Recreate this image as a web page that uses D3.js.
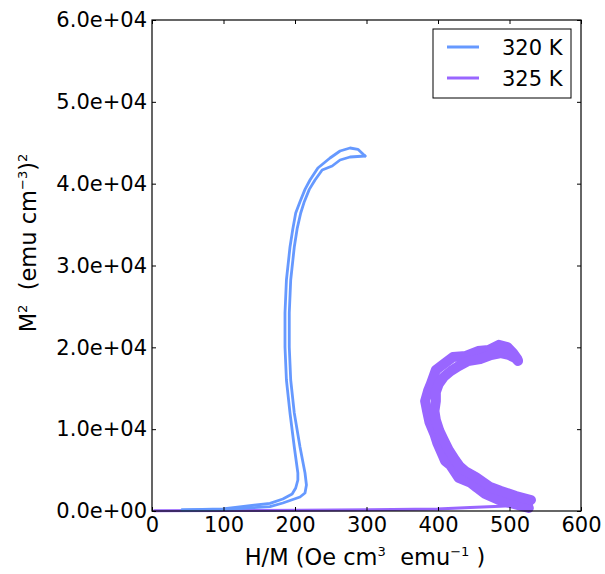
<!DOCTYPE html>
<html><head><meta charset="utf-8">
<script src="https://cdn.jsdelivr.net/npm/d3@7/dist/d3.min.js"></script>
<style>body{margin:0;background:#fff} text{font-family:"DejaVu Sans",sans-serif;fill:#000}</style>
</head><body><svg id="c" width="605" height="574"></svg>
<script>
// ---------- data ----------
const xTicks = [0, 100, 200, 300, 400, 500, 600];
const yTicks = [0, 1e4, 2e4, 3e4, 4e4, 5e4, 6e4];
const yTickLabels = ["0.0e+00", "1.0e+04", "2.0e+04", "3.0e+04", "4.0e+04", "5.0e+04", "6.0e+04"];
const seriesNames = ["320 K", "325 K"];
const seriesColors = ["#6699ff", "#9966ff"];

// 320 K : [H/M, M^2]  outward sweep and return sweep
const k320_out = [[42,122],[99,244],[165,941],[183,1466],[196,2077],[201,2811],[204,3788],[204,4644],[199,7821],[193,11976],[188,16008],[186,20040],[186,24196],[188,28228],[193,32261],[197,34500],[201,36416],[207,37800],[214,39300],[221,40448],[232,41915],[249,43137],[263,43992],[277,44359],[288,44200],[298,43380]];
const k320_ret = [[298,43380],[277,43259],[263,42893],[252,42160],[245,41915],[238,41670],[228,40448],[220,39300],[213,37800],[208,36416],[203,34500],[199,32261],[194,28228],[192,24196],[192,20040],[194,16008],[199,11976],[207,7821],[214,4644],[216,3177],[214,2200],[207,1711],[183,978],[165,525],[99,183],[42,122]];

// 325 K : low-field part, increasing branch, decreasing branch
const k325_low = [[3,24],[109,49],[207,86],[305,147],[399,244],[445,415],[487,587],[515,697],[531,733]];
const k325_up = [[527,367],[506,855],[485,1344],[466,2077],[455,2800],[446,3422],[429,4033],[417,5621],[410,6100],[407,6721],[399,8310],[395,9409],[388,10876],[385,12098],[382,13442],[386,14664],[390,15519],[397,17230],[408,17963],[421,18819],[439,18950],[456,19550],[471,19680],[485,20300],[497,20041],[505,19308],[511,18574]];
const k325_down = [[512,18330],[508,18697],[499,19063],[488,19300],[474,19060],[459,18570],[442,18320],[429,17719],[418,17108],[408,16375],[401,15519],[397,14542],[397,13442],[395,12220],[397,11120],[402,9776],[408,8676],[415,7454],[424,6232],[430,5500],[438,4888],[453,4155],[473,2933],[488,2444],[509,1833],[530,1344]];

// ---------- chart ----------
const svg = d3.select("#c");
const L = 152, R = 581, T = 20, B = 511;
const x = d3.scaleLinear().domain([0, 600]).range([L, R]);
const y = d3.scaleLinear().domain([0, 6e4]).range([B, T]);
const FS = 21, LFS = 22.5;

const line = d3.line().x(d => x(d[0])).y(d => y(d[1]));
const plot = svg.append("g");

plot.append("path").datum(k325_low).attr("d", line)
  .attr("fill", "none").attr("stroke", seriesColors[1]).attr("stroke-width", 3)
  .attr("stroke-linejoin", "round").attr("stroke-linecap", "round");
[k325_up, k325_down].forEach(s => {
  plot.append("path").datum(s).attr("d", line)
    .attr("fill", "none").attr("stroke", seriesColors[1]).attr("stroke-width", 10)
    .attr("stroke-linejoin", "round").attr("stroke-linecap", "round");
});
[k320_out, k320_ret].forEach(s => {
  plot.append("path").datum(s).attr("d", line)
    .attr("fill", "none").attr("stroke", seriesColors[0]).attr("stroke-width", 2.8)
    .attr("stroke-linejoin", "round").attr("stroke-linecap", "round");
});

// axes (inward ticks)
const gx = svg.append("g").attr("transform", `translate(0,${B})`)
  .call(d3.axisBottom(x).tickValues(xTicks).tickSize(-4).tickPadding(6).tickFormat(d3.format("d")));
const gy = svg.append("g").attr("transform", `translate(${L},0)`)
  .call(d3.axisLeft(y).tickValues(yTicks).tickSize(-4).tickPadding(5).tickFormat((d, i) => yTickLabels[i]));
const gt = svg.append("g").attr("transform", `translate(0,${T})`)
  .call(d3.axisTop(x).tickValues(xTicks).tickSize(-4).tickFormat(""));
const gr = svg.append("g").attr("transform", `translate(${R},0)`)
  .call(d3.axisRight(y).tickValues(yTicks).tickSize(-4).tickFormat(""));
[gx, gy, gt, gr].forEach(g => {
  g.select(".domain").remove();
  g.selectAll("line").attr("stroke", "#000");
  g.selectAll("text").attr("font-size", FS).attr("font-family", "DejaVu Sans").attr("fill", "#000");
});

svg.append("rect").attr("x", L).attr("y", T).attr("width", R - L).attr("height", B - T)
  .attr("fill", "none").attr("stroke", "#000").attr("stroke-width", 1.2);

// axis labels
const xl = svg.append("text").attr("x", 365).attr("y", 565).attr("text-anchor", "middle").attr("font-size", LFS);
xl.append("tspan").text("H/M (Oe cm");
xl.append("tspan").attr("font-size", LFS * 0.58).attr("dy", -9).text("3");
xl.append("tspan").attr("dy", 9).text("\u00a0 emu");
xl.append("tspan").attr("font-size", LFS * 0.58).attr("dy", -9).text("\u22121");
xl.append("tspan").attr("dy", 9).text("\u00a0)");

const yl = svg.append("text").attr("transform", "translate(36,243) rotate(-90)").attr("text-anchor", "middle").attr("font-size", LFS);
yl.append("tspan").text("M");
yl.append("tspan").attr("font-size", LFS * 0.58).attr("dy", -9).text("2");
yl.append("tspan").attr("dy", 9).text("\u00a0 (emu cm");
yl.append("tspan").attr("font-size", LFS * 0.58).attr("dy", -9).text("\u22123");
yl.append("tspan").attr("dy", 9).text(")");
yl.append("tspan").attr("font-size", LFS * 0.58).attr("dy", -9).text("2");

// legend
const lg = svg.append("g");
lg.append("rect").attr("x", 433).attr("y", 29).attr("width", 138).attr("height", 69)
  .attr("fill", "#fff").attr("stroke", "#000").attr("stroke-width", 1);
seriesNames.forEach((n, i) => {
  const yy = 47 + i * 31;
  lg.append("line").attr("x1", 447).attr("x2", 479).attr("y1", yy).attr("y2", yy)
    .attr("stroke", seriesColors[i]).attr("stroke-width", 3);
  lg.append("text").attr("x", 502).attr("y", yy + 7.5).attr("font-size", FS).text(n);
});
</script></body></html>
